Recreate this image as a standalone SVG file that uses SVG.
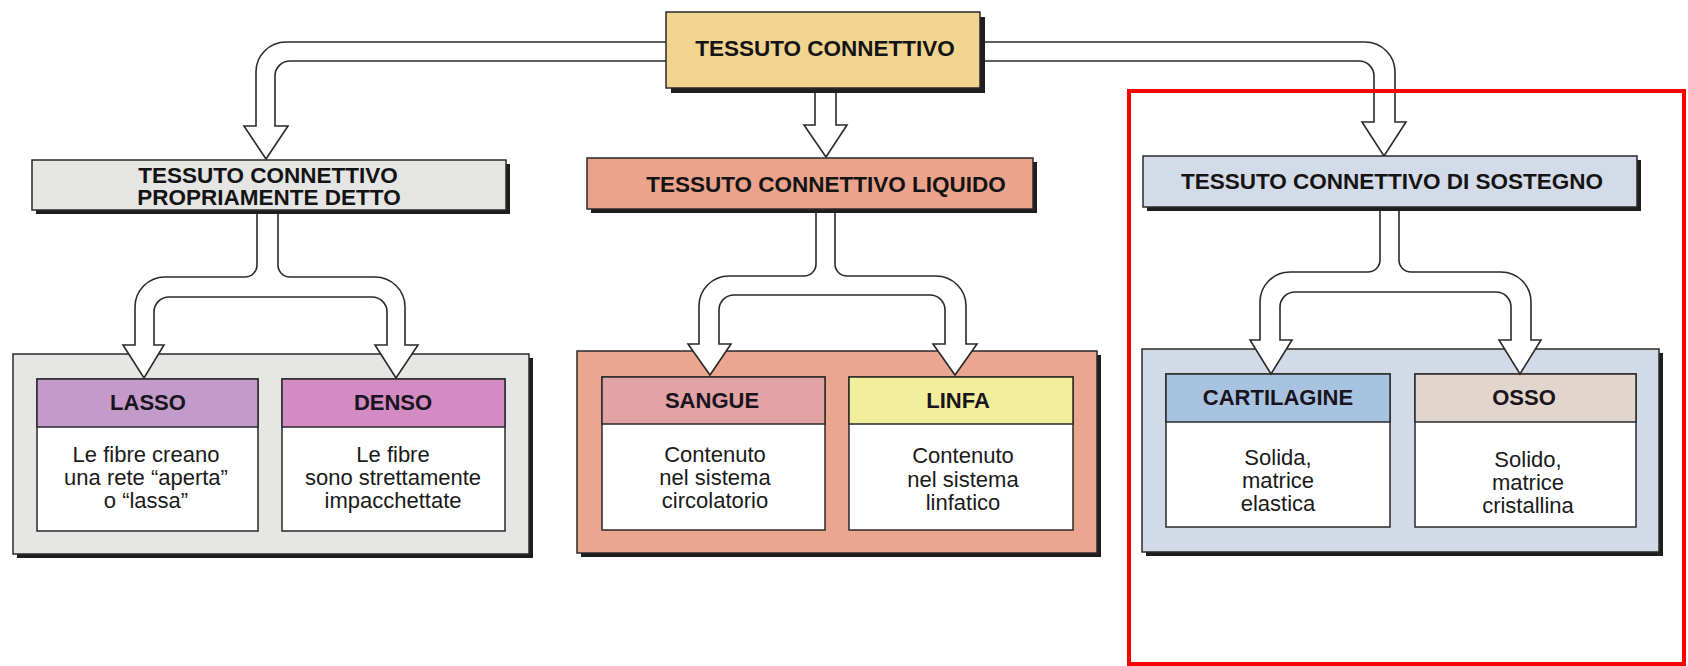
<svg xmlns="http://www.w3.org/2000/svg" width="1688" height="666" viewBox="0 0 1688 666">
<style>
.box{stroke:#2a2a2a;stroke-width:1.5}
.sh{fill:#1e1e1e}
.card{fill:#ffffff;stroke:#2a2a2a;stroke-width:1.5}
.hl{stroke:#2a2a2a;stroke-width:1.5}
.conn{fill:#ffffff;stroke:#2a2a2a;stroke-width:1.6;stroke-linejoin:miter}
.h{font-family:"Liberation Sans",Arial,sans-serif;font-weight:bold;font-size:22.5px;fill:#141414;text-anchor:middle}
.ch{font-family:"Liberation Sans",Arial,sans-serif;font-weight:bold;font-size:22px;fill:#1a1420;text-anchor:middle}
.b{font-family:"Liberation Sans",Arial,sans-serif;font-size:22px;fill:#1a1a1a;text-anchor:middle}
</style>
<rect width="1688" height="666" fill="#ffffff"/>

<!-- Level 3 panels -->
<g id="panel-proprio">
  <rect class="sh" x="17" y="358" width="516" height="200"/>
  <rect class="box" x="13" y="354" width="516" height="200" fill="#e6e6e4"/>
</g>
<g id="lasso">
  <rect class="card" x="37" y="379" width="221" height="152"/>
  <rect class="hl" x="37" y="379" width="221" height="48" fill="#c39bca"/>
  <text class="ch" x="148" y="410">LASSO</text>
  <text class="b" x="146" y="462">Le fibre creano</text>
  <text class="b" x="146" y="485">una rete “aperta”</text>
  <text class="b" x="146" y="508">o “lassa”</text>
</g>
<g id="denso">
  <rect class="card" x="282" y="379" width="223" height="152"/>
  <rect class="hl" x="282" y="379" width="223" height="48" fill="#d28bc3"/>
  <text class="ch" x="393" y="410">DENSO</text>
  <text class="b" x="393" y="462">Le fibre</text>
  <text class="b" x="393" y="485">sono strettamente</text>
  <text class="b" x="393" y="508">impacchettate</text>
</g>

<g id="panel-liquido">
  <rect class="sh" x="581" y="355" width="520" height="202"/>
  <rect class="box" x="577" y="351" width="520" height="202" fill="#eaa68e"/>
</g>
<g id="sangue">
  <rect class="card" x="602" y="377" width="223" height="153"/>
  <rect class="hl" x="602" y="377" width="223" height="47" fill="#e2a3a4"/>
  <text class="ch" x="712" y="408">SANGUE</text>
  <text class="b" x="715" y="462">Contenuto</text>
  <text class="b" x="715" y="485">nel sistema</text>
  <text class="b" x="715" y="508">circolatorio</text>
</g>
<g id="linfa">
  <rect class="card" x="849" y="377" width="224" height="153"/>
  <rect class="hl" x="849" y="377" width="224" height="47" fill="#f2ee9c"/>
  <text class="ch" x="958" y="408">LINFA</text>
  <text class="b" x="963" y="463">Contenuto</text>
  <text class="b" x="963" y="487">nel sistema</text>
  <text class="b" x="963" y="510">linfatico</text>
</g>

<g id="panel-sostegno">
  <rect class="sh" x="1146" y="353" width="517" height="203"/>
  <rect class="box" x="1142" y="349" width="517" height="203" fill="#d2dae8"/>
</g>
<g id="cartilagine">
  <rect class="card" x="1166" y="374" width="224" height="153"/>
  <rect class="hl" x="1166" y="374" width="224" height="48" fill="#a8c3df"/>
  <text class="ch" x="1278" y="405">CARTILAGINE</text>
  <text class="b" x="1278" y="465">Solida,</text>
  <text class="b" x="1278" y="488">matrice</text>
  <text class="b" x="1278" y="511">elastica</text>
</g>
<g id="osso">
  <rect class="card" x="1415" y="374" width="221" height="153"/>
  <rect class="hl" x="1415" y="374" width="221" height="48" fill="#e2d5cc"/>
  <text class="ch" x="1524" y="405">OSSO</text>
  <text class="b" x="1528" y="467">Solido,</text>
  <text class="b" x="1528" y="490">matrice</text>
  <text class="b" x="1528" y="513">cristallina</text>
</g>

<!-- Connectors -->
<g id="connectors">
  <path class="conn" d="M680,42 H286 A30,30 0 0 0 256,72 V126 H244 L266,159 L288,126 H275 V76 A15,15 0 0 1 290,61 H680"/>
  <path class="conn" d="M815,80 V125 H804 L826,157 L847,125 H836 V80"/>
  <path class="conn" d="M970,42 H1365 A30,30 0 0 1 1395,72 V122 H1406 L1384,156 L1362,122 H1374 V76 A15,15 0 0 0 1359,61 H970"/>
  <path class="conn" d="M257,200 V265 A12,12 0 0 1 245,277 H165 A30,30 0 0 0 135,307 V345 H123 L144,378 L164,345 H154 V312 A15,15 0 0 1 169,297 H372 A15,15 0 0 1 387,312 V345 H375 L396,378 L418,345 H405 V307 A30,30 0 0 0 375,277 H290 A12,12 0 0 1 278,265 V200"/>
  <path class="conn" d="M816,200 V264 A12,12 0 0 1 804,276 H729 A30,30 0 0 0 699,306 V344 H688 L710,375 L731,344 H719 V310 A15,15 0 0 1 734,295 H930 A15,15 0 0 1 945,310 V344 H933 L955,375 L977,344 H966 V306 A30,30 0 0 0 936,276 H847 A12,12 0 0 1 835,264 V200"/>
  <path class="conn" d="M1380,200 V260 A12,12 0 0 1 1368,272 H1290 A30,30 0 0 0 1260,302 V340 H1250 L1271,374 L1292,340 H1280 V307 A15,15 0 0 1 1295,292 H1496 A15,15 0 0 1 1511,307 V340 H1499 L1520,374 L1541,340 H1531 V302 A30,30 0 0 0 1501,272 H1411 A12,12 0 0 1 1399,260 V200"/>
</g>

<!-- Level 2 -->
<g id="proprio">
  <rect class="sh" x="36" y="164" width="474" height="50"/>
  <rect class="box" x="32" y="160" width="474" height="50" fill="#e5e5e3"/>
  <text class="h" x="268" y="183">TESSUTO CONNETTIVO</text>
  <text class="h" x="269" y="205">PROPRIAMENTE DETTO</text>
</g>
<g id="liquido">
  <rect class="sh" x="591" y="162" width="446" height="51"/>
  <rect class="box" x="587" y="158" width="446" height="51" fill="#eca38b"/>
  <text class="h" x="826" y="192">TESSUTO CONNETTIVO LIQUIDO</text>
</g>
<g id="sostegno">
  <rect class="sh" x="1147" y="160" width="494" height="51"/>
  <rect class="box" x="1143" y="156" width="494" height="51" fill="#d4dbe8"/>
  <text class="h" x="1392" y="189">TESSUTO CONNETTIVO DI SOSTEGNO</text>
</g>

<!-- Level 1 -->
<g id="connettivo">
  <rect class="sh" x="671" y="17" width="314" height="76"/>
  <rect class="box" x="666" y="12" width="314" height="76" fill="#f2d491"/>
  <text class="h" x="825" y="56">TESSUTO CONNETTIVO</text>
</g>

<!-- Highlight frame -->
<rect id="highlight" x="1129" y="91" width="555" height="573" fill="none" stroke="#ff0000" stroke-width="4"/>
</svg>
